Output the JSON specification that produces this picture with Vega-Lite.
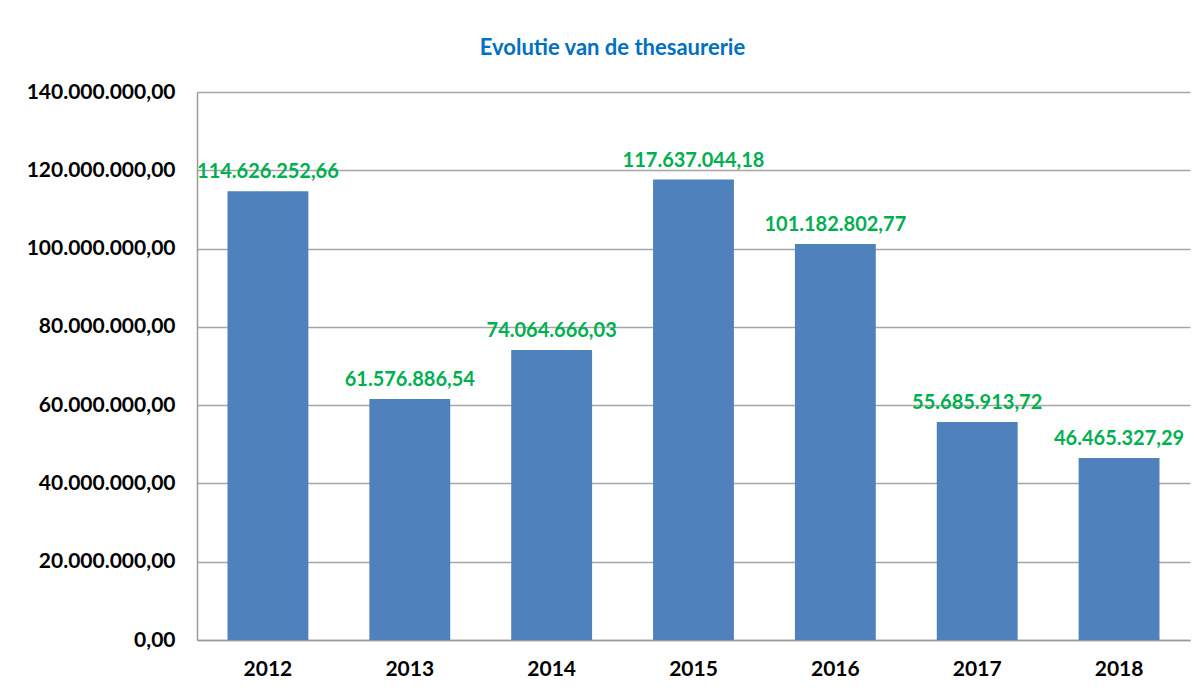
{
  "$schema": "https://vega.github.io/schema/vega-lite/v6.json",
  "autosize": {"type": "none"},
  "width": 993,
  "height": 548,
  "padding": {"left": 197, "top": 92, "right": 13, "bottom": 51},
  "background": "white",
  "config": {
    "locale": {"number": {"decimal": ",", "thousands": ".", "grouping": [3], "currency": ["€", ""]}},
    "view": {"stroke": null},
    "font": "Lato"
  },
  "title": {
    "text": "Evolutie van de thesaurerie",
    "color": "#0070C0",
    "font": "Lato",
    "fontSize": 22,
    "fontWeight": "bold",
    "anchor": "middle",
    "offset": 21,
    "dx": -81
  },
  "data": {
    "values": [
      {"year": "2012", "value": 114626252.66},
      {"year": "2013", "value": 61576886.54},
      {"year": "2014", "value": 74064666.03},
      {"year": "2015", "value": 117637044.18},
      {"year": "2016", "value": 101182802.77},
      {"year": "2017", "value": 55685913.72},
      {"year": "2018", "value": 46465327.29}
    ]
  },
  "encoding": {
    "x": {
      "field": "year",
      "type": "nominal",
      "scale": {"paddingInner": 0.43, "paddingOuter": 0.215},
      "axis": {
        "title": null,
        "labelAngle": 0,
        "labelFont": "Lato",
        "labelFontSize": 21,
        "labelFontWeight": "bold",
        "labelColor": "#000000",
        "labelPadding": 18,
        "ticks": false,
        "domainColor": "#9A9A9A",
        "domainWidth": 1.5
      }
    },
    "y": {
      "field": "value",
      "type": "quantitative",
      "scale": {"domain": [0, 140000000], "nice": false},
      "axis": {
        "title": null,
        "values": [0, 20000000, 40000000, 60000000, 80000000, 100000000, 120000000, 140000000],
        "format": ",.2f",
        "labelFont": "Lato",
        "labelFontSize": 21,
        "labelFontWeight": "bold",
        "labelColor": "#000000",
        "labelPadding": 22,
        "ticks": false,
        "domainColor": "#9A9A9A",
        "domainWidth": 1.5,
        "gridColor": "#A6A6A6",
        "gridWidth": 1.5
      }
    }
  },
  "layer": [
    {
      "mark": {"type": "bar", "color": "#4F81BD"}
    },
    {
      "mark": {
        "type": "text",
        "baseline": "bottom",
        "dy": -9,
        "color": "#00B050",
        "font": "Lato",
        "fontSize": 20,
        "fontWeight": "bold"
      },
      "encoding": {
        "text": {"field": "value", "type": "quantitative", "format": ",.2f"}
      }
    }
  ]
}
